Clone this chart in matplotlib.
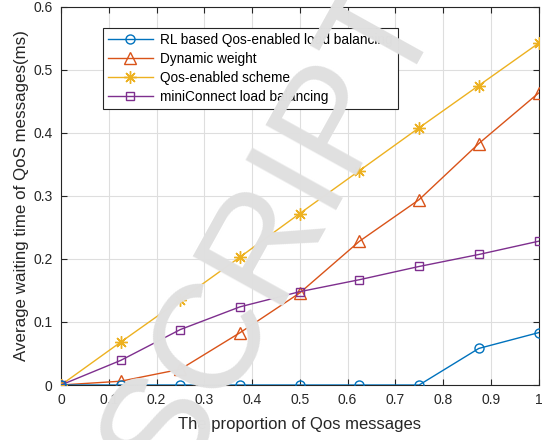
import matplotlib
matplotlib.use("Agg")
import matplotlib.pyplot as plt

x = [0, 0.125, 0.25, 0.375, 0.5, 0.625, 0.75, 0.875, 1.0]
rl = [0, 0, 0, 0, 0, 0, 0, 0.058, 0.083]
dyn = [0, 0.006, 0.025, 0.083, 0.146, 0.228, 0.294, 0.383, 0.463]
qos = [0, 0.068, 0.135, 0.203, 0.272, 0.340, 0.408, 0.475, 0.542]
mini = [0, 0.039, 0.088, 0.124, 0.148, 0.167, 0.188, 0.207, 0.228]
labels = ["RL based Qos-enabled load balancing", "Dynamic weight",
          "Qos-enabled scheme", "miniConnect load balancing"]
xticks = [0, 0.1, 0.2, 0.3, 0.4, 0.5, 0.6, 0.7, 0.8, 0.9, 1]
xticklabels = ["0", "0.1", "0.2", "0.3", "0.4", "0.5", "0.6", "0.7", "0.8", "0.9", "1"]
yticks = [0, 0.1, 0.2, 0.3, 0.4, 0.5, 0.6]
yticklabels = ["0", "0.1", "0.2", "0.3", "0.4", "0.5", "0.6"]

plt.rcParams['font.family'] = ['Liberation Sans', 'DejaVu Sans']

fig = plt.figure(figsize=(5.48, 4.40), dpi=100)
ax = fig.add_axes([61/548, 1 - 385/440, (538.5 - 61)/548, (385 - 6.7)/440])

ax.plot(x, dyn, color='#D95319', marker='^', ms=8.5, mfc='none', mew=1, lw=1, label=labels[1], zorder=3)
ax.plot(x, qos, color='#EDB120', marker=(8, 2, 0), ms=9, mew=1, lw=1, label=labels[2], zorder=3)
ax.plot(x, mini, color='#7E2F8E', marker='s', ms=5.8, mfc='none', mew=1, lw=1, label=labels[3], zorder=3)
ax.plot(x, rl, color='#0072BD', marker='o', ms=6.5, mfc='none', mew=1, lw=1, label=labels[0], zorder=4)

ax.set_xlim(0, 1)
ax.set_ylim(0, 0.6)
ax.set_xticks(xticks)
ax.set_xticklabels(xticklabels)
ax.set_yticks(yticks)
ax.set_yticklabels(yticklabels)
ax.grid(True, color='#dedede', lw=0.8)
ax.set_axisbelow(True)
ax.tick_params(direction='in', top=True, right=True, labelsize=10, colors='#262626',
               length=4, pad=6)
for s in ax.spines.values():
    s.set_color('#262626')
    s.set_linewidth(0.8)
ax.set_xlabel("The proportion of Qos messages", fontsize=12, color='#262626', labelpad=7)
ax.set_ylabel("Average waiting time of QoS messages(ms)", fontsize=12.2, color='#262626', labelpad=3)

h, l = ax.get_legend_handles_labels()
order = [3, 0, 1, 2]
leg = ax.legend([h[i] for i in order], [l[i] for i in order],
                loc='upper left', bbox_to_anchor=(0.088, 0.944), fontsize=9.8,
                fancybox=False, edgecolor='#262626', framealpha=1,
                borderpad=0.35, labelspacing=0.38, handlelength=3.3, handletextpad=0.55,
                borderaxespad=0)
leg.get_frame().set_linewidth(0.8)

fig.text(307/548, 1 - 252/440, "SCRIPT", rotation=61, rotation_mode='anchor',
         fontsize=108, color='#e0e0e0', ha='center', va='baseline', zorder=10,
         family='Liberation Sans')

fig.savefig("out.png", dpi=100)
